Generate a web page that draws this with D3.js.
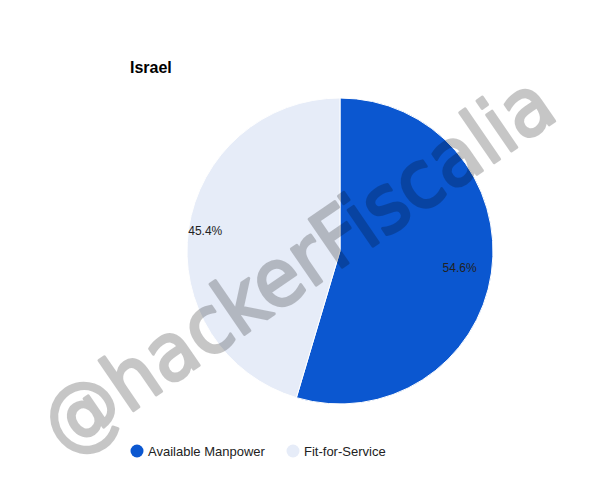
<!DOCTYPE html>
<html>
<head>
<meta charset="utf-8">
<script src="https://cdn.jsdelivr.net/npm/d3@7"></script>
<style>
  html, body { margin: 0; padding: 0; background: #fff; }
  svg { display: block; }
</style>
</head>
<body>
<svg id="chart" width="600" height="500"></svg>
<script>
const title = "Israel";
const categories = ["Available Manpower", "Fit-for-Service"];
const values = [54.6, 45.4];
const colors = ["#0b57d0", "#e6ecf8"];
const watermarkText = "@hackerFiscalia";

const svg = d3.select("#chart");
const W = 600, H = 500;
const cx = 340, cy = 251, r = 153;

svg.append("rect").attr("width", W).attr("height", H).attr("fill", "#fff");

svg.append("text")
  .attr("x", 130).attr("y", 73)
  .attr("font-family", "Arial, 'Liberation Sans', sans-serif")
  .attr("font-size", 16).attr("font-weight", "bold")
  .attr("fill", "#000")
  .text(title);

const data = categories.map((c, i) => ({ name: c, value: values[i], color: colors[i] }));
const pie = d3.pie().value(d => d.value).sort(null);
const arcs = pie(data);
const arc = d3.arc().innerRadius(0).outerRadius(r);
const total = d3.sum(values);

const g = svg.append("g").attr("transform", `translate(${cx},${cy})`);
g.selectAll("path.slice").data(arcs).enter().append("path")
  .attr("class", "slice")
  .attr("d", arc)
  .attr("fill", d => d.data.color)
  .attr("stroke", "#fff").attr("stroke-width", 1);

const labelFactor = [0.79, 0.89];
g.selectAll("text.lbl").data(arcs).enter().append("text")
  .attr("class", "lbl")
  .attr("transform", (d, i) => {
    const lr = r * labelFactor[i];
    const c = d3.arc().innerRadius(lr).outerRadius(lr).centroid(d);
    return `translate(${c[0]},${c[1]})`;
  })
  .attr("text-anchor", "middle")
  .attr("dominant-baseline", "central")
  .attr("font-family", "Arial, 'Liberation Sans', sans-serif")
  .attr("font-size", 12)
  .attr("fill", "#222")
  .text(d => (d.data.value / total * 100).toFixed(1) + "%");

// legend
const legendX = [137, 293];
const leg = svg.append("g");
data.forEach((d, i) => {
  leg.append("circle").attr("cx", legendX[i]).attr("cy", 451).attr("r", 6.5).attr("fill", d.color);
  leg.append("text")
    .attr("x", legendX[i] + 11).attr("y", 451)
    .attr("dominant-baseline", "central")
    .attr("font-family", "Arial, 'Liberation Sans', sans-serif")
    .attr("font-size", 13)
    .attr("fill", "#222")
    .text(d.name);
});

// watermark
svg.append("g").attr("opacity", 0.22)
  .append("text")
  .attr("transform", "translate(66,457) rotate(-34.5)")
  .attr("font-family", "'DejaVu Sans', sans-serif")
  .attr("font-size", 80)
  .attr("textLength", 600)
  .attr("lengthAdjust", "spacingAndGlyphs")
  .attr("fill", "#000")
  .attr("stroke", "#000")
  .attr("stroke-width", 3)
  .attr("stroke-linejoin", "round")
  .text(watermarkText);
</script>
</body>
</html>
